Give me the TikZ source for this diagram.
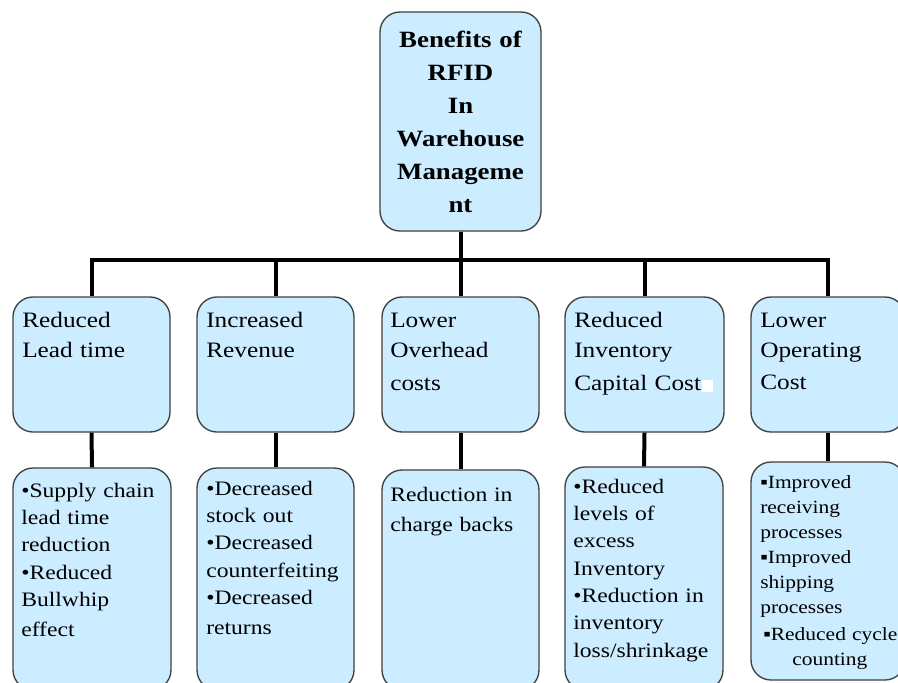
\documentclass[tikz,border=0pt]{standalone}
\usepackage{fontspec}
\setmainfont{Liberation Serif}[FakeStretch=1.15]
\usetikzlibrary{fit}
\definecolor{boxfill}{HTML}{CCECFF}
\definecolor{boxline}{HTML}{404040}
\tikzset{
  box/.style={draw=boxline, line width=1pt, fill=boxfill, rounded corners=15pt, inner sep=0pt},
  conn/.style={draw=black, line width=3pt},
  txt/.style={inner sep=0pt, anchor=base west, align=left, text width=150pt},
  rowone/.style={font=\fontsize{16.5pt}{22.5pt}\selectfont},
  rowtwo/.style={font=\fontsize{15.4pt}{20.5pt}\selectfont},
}
\begin{document}
\begin{tikzpicture}[x=0.75pt,y=-0.75pt]
\useasboundingbox (0,0) rectangle (898,682);
\begin{scope}
\clip (0,0) rectangle (898,682);
% top
\node[box, fit={(380,12)(541,231)}] (top) {};
% row one
\node[box, fit={(13,297)(170,432)}] (b1) {};
\node[box, fit={(197,297)(354,432)}] (b2) {};
\node[box, fit={(382,297)(539,432)}] (b3) {};
\node[box, fit={(565,297)(724,432)}] (b4) {};
\node[box, fit={(751,297)(905,432)}] (b5) {};
% row two
\node[box, fit={(13,468)(171,690)}] (c1) {};
\node[box, fit={(197,468)(354,690)}] (c2) {};
\node[box, fit={(382,470)(539,690)}] (c3) {};
\node[box, fit={(565,467)(723,690)}] (c4) {};
\node[box, fit={(751,462)(905,680)}] (c5) {};
% connectors
\coordinate (bus) at (460.5,260);
\foreach \b in {b1,b2,b3,b4,b5}{
  \draw[conn] (top.south) -- (bus) -| (\b.north);
}
\draw[conn] (b1.south) -- (c1.north);
\draw[conn] (b2.south) -- (c2.north);
\draw[conn] (b3.south) -- (c3.north);
\draw[conn] (b4.south) -- (c4.north);
\draw[conn] (b5.south) -- (c5.north);
\end{scope}
% texts
\node[inner sep=0pt, anchor=base, align=center, text width=125pt,
      font=\fontsize{17.5pt}{24.75pt}\selectfont\bfseries] (ttop) at (460.5,47)
  {Benefits of\\RFID\\In\\Warehouse\\Manageme\\nt};
\node[txt, rowone] (t1) at (22,327) {Reduced\\Lead time};
\node[txt, rowone] (t2) at (206,327) {Increased\\Revenue};
\node[txt, rowone] (t3) at (390,327) {Lower\\Overhead\\[2.5pt]costs};
\node[txt, rowone] (t4) at (574,327) {Reduced\\Inventory\\[2.5pt]Capital Cost};
\fill[white] (702,380) rectangle (713,392);
\node[txt, rowone] (t5) at (760,327) {Lower\\Operating\\[1.5pt]Cost};
\node[txt, rowtwo] (u1) at (21,497) {•Supply chain\\lead time\\reduction\\•Reduced\\Bullwhip\\[2pt]effect};
\node[txt, rowtwo] (u2) at (206,495) {•Decreased\\stock out\\•Decreased\\counterfeiting\\•Decreased\\[2pt]returns};
\node[txt, font=\fontsize{15.4pt}{23pt}\selectfont] (u3) at (390,501) {Reduction in\\charge backs};
\node[txt, rowtwo] (u4) at (573,493) {•Reduced\\levels of\\excess\\Inventory\\•Reduction in\\inventory\\loss/shrinkage};
\node[txt, font=\fontsize{14pt}{18.75pt}\selectfont] (u5) at (760,488) {▪Improved\\receiving\\processes\\▪Improved\\shipping\\processes};
\node[txt, font=\fontsize{14pt}{18.75pt}\selectfont] (u5b) at (763,640) {▪Reduced cycle};
\node[txt, font=\fontsize{14pt}{18.75pt}\selectfont] (u5c) at (792,665) {counting};
\end{tikzpicture}
\end{document}
